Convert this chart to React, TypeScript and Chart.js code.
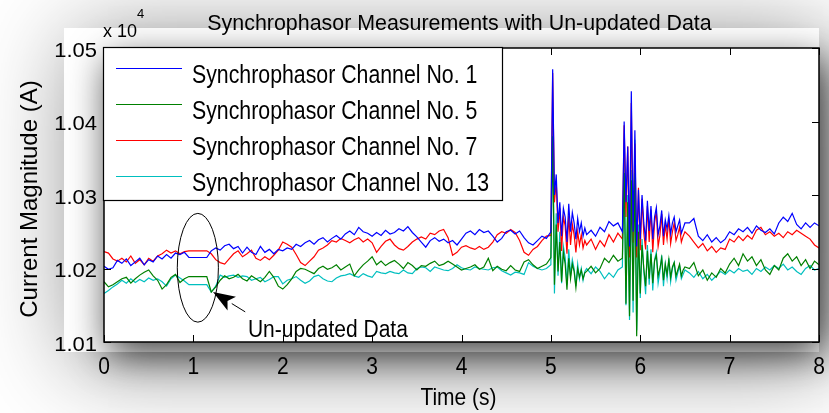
import React, { useEffect, useRef } from "react";
import { Chart, registerables } from "chart.js";

Chart.register(...registerables);

// ---------------- text ----------------
const TITLE = "Synchrophasor Measurements with Un-updated Data";
const X_LABEL = "Time (s)";
const Y_LABEL = "Current Magnitude (A)";
const SERIES_NAMES = [
  "Synchrophasor Channel No. 1",
  "Synchrophasor Channel No. 5",
  "Synchrophasor Channel No. 7",
  "Synchrophasor Channel No. 13",
];
const SERIES_COLORS = ["#0000ff", "#008000", "#ff0000", "#00bfbf"];
const ANNOTATION_TEXT = "Un-updated Data";

// ---------------- axes ----------------
const X_MIN = 0;
const X_MAX = 8;
const X_TICKS = [0, 1, 2, 3, 4, 5, 6, 7, 8];
const Y_MIN = 10100;
const Y_MAX = 10500;
const Y_TICKS = [10100, 10200, 10300, 10400, 10500];
const Y_TICK_LABELS = ["1.01", "1.02", "1.03", "1.04", "1.05"];
const Y_MULT_BASE = "x 10";
const Y_MULT_EXP = "4";

// ---------------- time base (s) ----------------
function seq(start: number, count: number, step: number): number[] {
  const out: number[] = [];
  for (let i = 0; i < count; i++) out.push(Math.round((start + i * step) * 1000) / 1000);
  return out;
}
const TIME = [
  ...seq(0, 100, 0.05),
  ...seq(5.0, 20, 0.02),
  ...seq(5.4, 9, 0.05),
  ...seq(5.82, 35, 0.02),
  ...seq(6.55, 30, 0.05),
];

// ---------------- series values (A) ----------------
const CH1 = [
  10203, 10199, 10201, 10211, 10207, 10213, 10204, 10209, 10214, 10205,
  10212, 10209, 10217, 10213, 10219, 10214, 10221, 10219, 10222, 10215,
  10215, 10215, 10215, 10215, 10224, 10228, 10225, 10231, 10233, 10227,
  10230, 10221, 10229, 10222, 10219, 10230, 10222, 10226, 10220, 10226,
  10224, 10228, 10226, 10233, 10230, 10235, 10238, 10233, 10239, 10242,
  10236, 10241, 10245, 10240, 10247, 10251, 10246, 10256, 10250, 10248,
  10244, 10249, 10245, 10252, 10247, 10249, 10254, 10251, 10257, 10249,
  10243, 10236, 10229, 10238, 10242, 10237, 10240, 10235, 10238, 10232,
  10240, 10248, 10251, 10246, 10253, 10249, 10251, 10244, 10236, 10241,
  10250, 10252, 10247, 10251, 10242, 10235, 10232, 10238, 10244, 10241,
  10250, 10471, 10300, 10328, 10262, 10290, 10244, 10282, 10270, 10236,
  10288, 10250, 10276, 10262, 10240, 10268, 10250, 10262, 10244, 10255,
  10246, 10252, 10244, 10256, 10250, 10264, 10258, 10262, 10250,
  10400, 10290, 10366, 10230, 10441, 10250, 10388, 10230, 10307, 10240,
  10300, 10262, 10238, 10292, 10251, 10285, 10240, 10270, 10283, 10246,
  10258, 10279, 10244, 10266, 10254, 10272, 10247, 10262, 10270, 10250,
  10258, 10266, 10248, 10255, 10262,
  10262, 10268, 10244, 10238, 10246, 10236, 10242, 10235, 10240, 10250,
  10246, 10254, 10250, 10256, 10248, 10258, 10252, 10249, 10254, 10247,
  10262, 10270, 10264, 10275, 10260, 10254, 10262, 10256, 10262, 10258,
];

const CH5 = [
  10182, 10175, 10178, 10182, 10186, 10188, 10180, 10186, 10191, 10195,
  10198, 10190, 10184, 10172, 10178, 10188, 10192, 10181, 10186, 10189,
  10189, 10189, 10189, 10189, 10168, 10175, 10184, 10190, 10186, 10188,
  10192, 10186, 10183, 10190, 10186, 10182, 10188, 10196, 10188, 10176,
  10172, 10178, 10186, 10196, 10200, 10199, 10196, 10193, 10200, 10203,
  10199, 10201, 10205, 10198, 10202, 10206, 10190, 10198, 10205, 10210,
  10216, 10205, 10210, 10204, 10208, 10211, 10206, 10200, 10208, 10204,
  10198, 10204, 10203, 10207, 10210, 10204, 10206, 10210, 10206, 10202,
  10198, 10200, 10202, 10205, 10199, 10202, 10214, 10197, 10203, 10199,
  10197, 10204, 10198, 10196, 10209, 10212, 10205, 10200, 10203, 10206,
  10215, 10380, 10178, 10260, 10196, 10236, 10182, 10222, 10206, 10171,
  10214, 10186, 10206, 10196, 10174, 10200, 10188, 10198, 10186, 10194,
  10196, 10203, 10194, 10200, 10214, 10208, 10218, 10210, 10214,
  10330, 10152, 10290, 10135, 10320, 10156, 10330, 10108, 10250, 10166,
  10232, 10200, 10176, 10224, 10186, 10220, 10180, 10210, 10218, 10190,
  10200, 10214, 10184, 10206, 10192, 10212, 10188, 10202, 10208, 10190,
  10198, 10206, 10190, 10198, 10202,
  10200, 10208, 10190, 10198, 10184, 10194, 10188, 10200, 10194, 10206,
  10214, 10204, 10220, 10210, 10216, 10204, 10212, 10198, 10192, 10204,
  10198, 10214, 10220, 10210, 10216, 10204, 10212, 10200, 10210, 10205,
];

const CH7 = [
  10223, 10221, 10213, 10210, 10214, 10209, 10217, 10207, 10212, 10205,
  10214, 10210, 10217, 10220, 10225, 10221, 10224, 10220, 10223, 10224,
  10224, 10224, 10224, 10224, 10220, 10212, 10208, 10206, 10213, 10220,
  10224, 10216, 10220, 10225, 10214, 10211, 10216, 10212, 10218, 10225,
  10236, 10233, 10229, 10219, 10208, 10204, 10210, 10216, 10225, 10228,
  10232, 10238, 10236, 10241, 10238, 10235, 10239, 10242, 10236, 10240,
  10235, 10222, 10230, 10237, 10240, 10232, 10227, 10225, 10230, 10236,
  10240, 10243, 10240, 10248, 10246, 10251, 10253, 10242, 10218, 10222,
  10229, 10231, 10228, 10226, 10230, 10226, 10229, 10236, 10246, 10250,
  10248, 10253, 10249, 10238, 10222, 10218, 10226, 10230, 10238, 10244,
  10245, 10466, 10290, 10318, 10250, 10282, 10224, 10270, 10258, 10220,
  10272, 10232, 10260, 10246, 10222, 10250, 10232, 10246, 10228, 10238,
  10232, 10240, 10226, 10238, 10230, 10246, 10236, 10248, 10240,
  10395, 10270, 10366, 10215, 10425, 10235, 10370, 10215, 10310, 10225,
  10295, 10248, 10226, 10285, 10236, 10280, 10222, 10262, 10278, 10230,
  10245, 10274, 10232, 10260, 10240, 10268, 10234, 10250, 10262, 10238,
  10246, 10256, 10236, 10244, 10250,
  10244, 10236, 10228, 10234, 10224, 10230, 10222, 10228, 10226, 10240,
  10236, 10244, 10238, 10245, 10240, 10252, 10256, 10246, 10250, 10244,
  10248, 10242, 10250, 10246, 10252, 10248, 10244, 10240, 10232, 10228,
];

const CH13 = [
  10166, 10170, 10175, 10179, 10184, 10180, 10186, 10181, 10185, 10182,
  10187, 10184, 10186, 10182, 10176, 10186, 10191, 10187, 10183, 10178,
  10178, 10178, 10178, 10178, 10168, 10176, 10191, 10188, 10190, 10191,
  10188, 10190, 10189, 10184, 10186, 10188, 10182, 10185, 10189, 10189,
  10179, 10184, 10186, 10189, 10184, 10180, 10183, 10189, 10191, 10186,
  10183, 10182, 10187, 10190, 10191, 10193, 10190, 10188, 10193, 10190,
  10188, 10196, 10194, 10193, 10196, 10194, 10193, 10198, 10194, 10193,
  10200, 10202, 10201, 10196, 10202, 10200, 10198, 10197, 10200, 10205,
  10201, 10199, 10198, 10202, 10200, 10199, 10198, 10201, 10202, 10197,
  10194, 10191, 10195, 10194, 10192, 10208, 10203, 10200, 10198, 10200,
  10205, 10419, 10166, 10275, 10190, 10250, 10180, 10230, 10215, 10178,
  10226, 10190, 10212, 10200, 10176, 10206, 10186, 10200, 10184, 10196,
  10200, 10193, 10202, 10196, 10186, 10194, 10188, 10198, 10202,
  10360, 10150, 10300, 10130, 10334, 10140, 10375, 10116, 10260, 10160,
  10240, 10196, 10165, 10232, 10178, 10226, 10170, 10212, 10222, 10180,
  10196, 10218, 10176, 10206, 10186, 10214, 10182, 10200, 10208, 10184,
  10194, 10204, 10186, 10192, 10198,
  10194, 10188, 10196, 10186, 10192, 10184, 10190, 10196, 10192, 10198,
  10194, 10200, 10196, 10198, 10192, 10200, 10196, 10202, 10198, 10204,
  10200, 10206, 10198, 10202, 10196, 10192, 10200, 10204, 10198, 10200,
];

const SERIES = [CH1, CH5, CH7, CH13];

// annotation anchors in data units (time s, current A)
const ELLIPSE_CENTER = [1.05, 10201];
const ELLIPSE_RADII = [0.23, 74];
const ARROW_TIP = [1.22, 10168];
const ARROW_TAIL = [1.58, 10141];
const ANNOTATION_AT = [1.61, 10107];

const FONT = '"Liberation Sans", Arial, Helvetica, sans-serif';

function drawText(
  ctx: CanvasRenderingContext2D,
  s: string,
  x: number,
  y: number,
  w: number,
  h: number,
  align: CanvasTextAlign,
  baseline: CanvasTextBaseline,
  rot = 0
) {
  ctx.save();
  ctx.translate(x, y);
  if (rot) ctx.rotate(rot);
  ctx.scale(w / h, 1);
  ctx.font = `${h}px ${FONT}`;
  ctx.textAlign = align;
  ctx.textBaseline = baseline;
  ctx.fillStyle = "#000";
  ctx.fillText(s, 0, 0);
  ctx.restore();
}

const backgroundPlugin = {
  id: "figureBackground",
  beforeDraw(chart: any) {
    const { ctx, chartArea: a, width, height } = chart;
    const w = a.right - a.left;
    const h = a.bottom - a.top;
    ctx.save();
    ctx.fillStyle = "#ffffff";
    ctx.fillRect(0, 0, width, height);
    ctx.shadowColor = "rgba(0,0,0,0.45)";
    ctx.shadowBlur = 90;
    ctx.shadowOffsetX = 10;
    ctx.shadowOffsetY = 10;
    ctx.fillStyle = "#ffffff";
    ctx.fillRect(a.left - 40, a.top - 20, w + 40, h + 30);
    ctx.shadowColor = "rgba(0,0,0,0.75)";
    ctx.shadowBlur = 36;
    ctx.shadowOffsetX = 4;
    ctx.shadowOffsetY = 12;
    ctx.fillRect(a.left, a.top, w, h);
    ctx.restore();
    ctx.save();
    ctx.fillStyle = "#ffffff";
    ctx.fillRect(a.left, a.top, w, h);
    ctx.restore();
  },
};

const decorPlugin = {
  id: "matlabDecor",
  afterDraw(chart: any) {
    const { ctx, chartArea: a } = chart;
    const xs = chart.scales.x;
    const ys = chart.scales.y;
    ctx.save();

    // axes box
    ctx.strokeStyle = "#000";
    ctx.lineWidth = 1.5;
    ctx.strokeRect(a.left, a.top, a.right - a.left, a.bottom - a.top);

    // inward ticks
    const tl = 7;
    ctx.lineWidth = 1;
    ctx.beginPath();
    X_TICKS.forEach((t) => {
      const x = Math.round(xs.getPixelForValue(t)) + 0.5;
      ctx.moveTo(x, a.bottom);
      ctx.lineTo(x, a.bottom - tl);
      ctx.moveTo(x, a.top);
      ctx.lineTo(x, a.top + tl);
    });
    Y_TICKS.forEach((v) => {
      const y = Math.round(ys.getPixelForValue(v)) + 0.5;
      ctx.moveTo(a.left, y);
      ctx.lineTo(a.left + tl, y);
      ctx.moveTo(a.right, y);
      ctx.lineTo(a.right - tl, y);
    });
    ctx.stroke();

    // tick labels
    X_TICKS.forEach((t) => {
      drawText(ctx, String(t), xs.getPixelForValue(t), a.bottom + 32, 21, 23, "center", "alphabetic");
    });
    Y_TICKS.forEach((v, i) => {
      drawText(ctx, Y_TICK_LABELS[i], a.left - 7, ys.getPixelForValue(v) + 3, 22, 21, "right", "middle");
    });
    drawText(ctx, Y_MULT_BASE, a.left - 1, a.top - 11, 18, 18, "left", "alphabetic");
    drawText(ctx, Y_MULT_EXP, a.left + 33, a.top - 30, 13, 13, "left", "alphabetic");

    // title & axis titles
    drawText(ctx, TITLE, (a.left + a.right) / 2 - 2, a.top - 18, 21.4, 22, "center", "alphabetic");
    drawText(ctx, X_LABEL, (a.left + a.right) / 2 - 3, a.bottom + 63, 21, 24, "center", "alphabetic");
    drawText(ctx, Y_LABEL, 37, 199, 24, 24, "center", "alphabetic", -Math.PI / 2);

    // legend
    const lx = a.left - 1;
    const ly = a.top - 1;
    const lw = 399;
    const lh = 153;
    ctx.fillStyle = "#fff";
    ctx.fillRect(lx, ly, lw, lh);
    ctx.strokeStyle = "#000";
    ctx.lineWidth = 1.2;
    ctx.strokeRect(lx + 0.5, ly + 0.5, lw, lh);
    SERIES_NAMES.forEach((name, i) => {
      const yy = ly + 21.5 + i * 36;
      ctx.strokeStyle = SERIES_COLORS[i];
      ctx.lineWidth = 1;
      ctx.beginPath();
      ctx.moveTo(lx + 13, yy);
      ctx.lineTo(lx + 79, yy);
      ctx.stroke();
      drawText(ctx, name, lx + 89, yy + 14, 21.3, 26, "left", "alphabetic");
    });

    // annotation: ellipse, arrow, text
    const cx = xs.getPixelForValue(ELLIPSE_CENTER[0]);
    const cy = ys.getPixelForValue(ELLIPSE_CENTER[1]);
    const rx = Math.abs(xs.getPixelForValue(ELLIPSE_CENTER[0] + ELLIPSE_RADII[0]) - cx);
    const ry = Math.abs(ys.getPixelForValue(ELLIPSE_CENTER[1] + ELLIPSE_RADII[1]) - cy);
    ctx.strokeStyle = "#000";
    ctx.lineWidth = 1;
    ctx.beginPath();
    ctx.ellipse(cx, cy, rx, ry, 0, 0, Math.PI * 2);
    ctx.stroke();

    const tx = xs.getPixelForValue(ARROW_TIP[0]);
    const ty = ys.getPixelForValue(ARROW_TIP[1]);
    const sx = xs.getPixelForValue(ARROW_TAIL[0]);
    const sy = ys.getPixelForValue(ARROW_TAIL[1]);
    const len = Math.hypot(tx - sx, ty - sy);
    const ux = (tx - sx) / len;
    const uy = (ty - sy) / len;
    const hl = 22;
    const hw = 8;
    const bx = tx - ux * hl;
    const by = ty - uy * hl;
    ctx.beginPath();
    ctx.moveTo(sx, sy);
    ctx.lineTo(bx, by);
    ctx.stroke();
    ctx.fillStyle = "#000";
    ctx.beginPath();
    ctx.moveTo(tx, ty);
    ctx.lineTo(bx - uy * hw, by + ux * hw);
    ctx.lineTo(tx - ux * (hl - 5), ty - uy * (hl - 5));
    ctx.lineTo(bx + uy * hw, by - ux * hw);
    ctx.closePath();
    ctx.fill();

    drawText(
      ctx,
      ANNOTATION_TEXT,
      xs.getPixelForValue(ANNOTATION_AT[0]),
      ys.getPixelForValue(ANNOTATION_AT[1]),
      21,
      23,
      "left",
      "alphabetic"
    );

    ctx.restore();
  },
};

export default function App() {
  const canvasRef = useRef<HTMLCanvasElement | null>(null);

  useEffect(() => {
    document.body.style.margin = "0";
    const canvas = canvasRef.current;
    if (!canvas) return;
    const datasets = SERIES.map((vals, i) => {
      const n = Math.min(vals.length, TIME.length);
      const pts = [] as { x: number; y: number }[];
      for (let k = 0; k < n; k++) pts.push({ x: TIME[k], y: vals[k] });
      return {
        label: SERIES_NAMES[i],
        data: pts,
        borderColor: SERIES_COLORS[i],
        backgroundColor: SERIES_COLORS[i],
        borderWidth: 1.2,
        pointRadius: 0,
        tension: 0,
        fill: false,
      };
    });
    const chart = new Chart(canvas, {
      type: "line",
      data: { datasets },
      options: {
        animation: false,
        responsive: false,
        devicePixelRatio: 1,
        layout: { padding: { left: 104, top: 48, right: 10, bottom: 71 } },
        plugins: {
          legend: { display: false },
          title: { display: false },
          tooltip: { enabled: false },
        },
        scales: {
          x: { type: "linear", min: X_MIN, max: X_MAX, display: false },
          y: { type: "linear", min: Y_MIN, max: Y_MAX, display: false },
        },
      },
      plugins: [backgroundPlugin, decorPlugin],
    } as any);
    return () => chart.destroy();
  }, []);

  return (
    <div style={{ width: 829, height: 413 }}>
      <canvas ref={canvasRef} width={829} height={413} style={{ display: "block" }} />
    </div>
  );
}
